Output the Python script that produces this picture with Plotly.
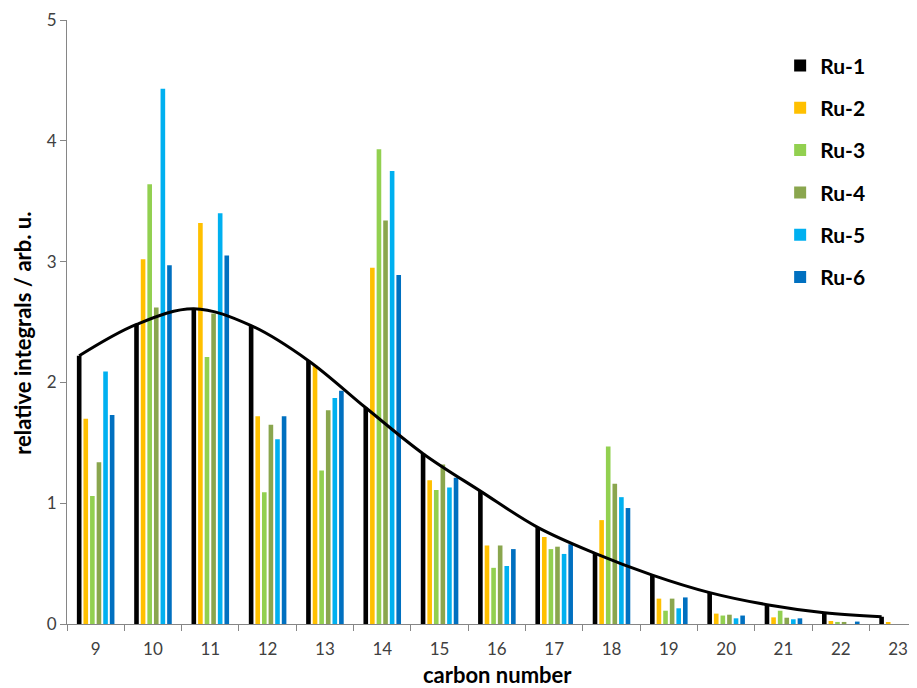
import numpy as np
import plotly.graph_objects as go

carbon = ["9", "10", "11", "12", "13", "14", "15", "16", "17", "18", "19", "20", "21", "22", "23"]
ru1 = [2.22, 2.48, 2.61, 2.47, 2.18, 1.79, 1.41, 1.10, 0.80, 0.585, 0.405, 0.26, 0.16, 0.094, 0.06]
ru2 = [1.70, 3.02, 3.32, 1.72, 2.14, 2.95, 1.19, 0.65, 0.72, 0.86, 0.21, 0.086, 0.055, 0.025, 0.011]
ru3 = [1.06, 3.64, 2.21, 1.09, 1.27, 3.93, 1.11, 0.465, 0.62, 1.47, 0.11, 0.07, 0.11, 0.017, 0.0]
ru4 = [1.34, 2.62, 2.57, 1.65, 1.77, 3.34, 1.32, 0.65, 0.64, 1.16, 0.21, 0.077, 0.052, 0.017, 0.0]
ru5 = [2.09, 4.43, 3.40, 1.53, 1.87, 3.75, 1.13, 0.48, 0.58, 1.05, 0.13, 0.047, 0.039, 0.0, 0.0]
ru6 = [1.73, 2.97, 3.05, 1.72, 1.93, 2.89, 1.21, 0.62, 0.66, 0.96, 0.22, 0.07, 0.047, 0.02, 0.0]

series = [("Ru-1", ru1, "#000000"), ("Ru-2", ru2, "#FFC000"), ("Ru-3", ru3, "#92D050"),
          ("Ru-4", ru4, "#8AA64E"), ("Ru-5", ru5, "#00B0F0"), ("Ru-6", ru6, "#0070C0")]

BARGAP = 0.31
FONT = "Lato, 'Liberation Sans', sans-serif"

fig = go.Figure()
for name, vals, col in series:
    fig.add_trace(go.Bar(x=carbon, y=vals, name="<b>" + name + "</b>", marker_color=col,
                         marker_line_width=0, legendgroup=name))

# smooth curve through Ru-1 bar tops (Ru-1 is the first bar of each group)
n = len(series)
offset = -(n - 1) / 2 * (1 - BARGAP) / n
fig.add_trace(go.Scatter(x=np.arange(len(carbon)) + offset, y=ru1, xaxis="x2",
                         mode="lines", line=dict(color="black", width=3, shape="spline", smoothing=1),
                         showlegend=False, hoverinfo="skip"))

xr = [-0.5, 14.33]
axis_col = "#868686"
fig.update_layout(
    width=909, height=680,
    margin=dict(l=59, r=0, t=12, b=64, autoexpand=False),
    paper_bgcolor="white", plot_bgcolor="white",
    barmode="group", bargap=BARGAP, bargroupgap=0.3,
    font=dict(family=FONT, color="#404040"),
    xaxis=dict(type="category", range=xr, tickson="boundaries", ticks="outside", ticklen=6,
               tickcolor=axis_col, showline=True, linecolor=axis_col, linewidth=1,
               showgrid=False, tickfont=dict(size=17, color="#404040"), ticklabelstandoff=10),
    xaxis2=dict(type="linear", range=xr, overlaying="x", visible=False),
    yaxis=dict(range=[0, 5], dtick=1, ticks="outside", ticklen=6, tickcolor=axis_col,
               showline=True, linecolor=axis_col, linewidth=1, showgrid=False, zeroline=False,
               tickfont=dict(size=17, color="#404040")),
    legend=dict(x=0.839, y=0.958, xanchor="left", yanchor="top", traceorder="grouped",
                tracegroupgap=12, font=dict(size=21, color="black", family=FONT),
                bgcolor="rgba(0,0,0,0)"),
    annotations=[
        dict(text="<b>carbon number</b>", xref="paper", yref="paper", x=0.506, y=-0.0828,
             xanchor="center", yanchor="middle", showarrow=False,
             font=dict(size=22, color="black", family=FONT)),
        dict(text="<b>relative integrals / arb. u.</b>", xref="paper", yref="paper",
             x=-0.0518, y=0.482, xanchor="center", yanchor="middle", textangle=-90,
             showarrow=False, font=dict(size=22, color="black", family=FONT)),
    ],
)

fig.write_html("out.html")
